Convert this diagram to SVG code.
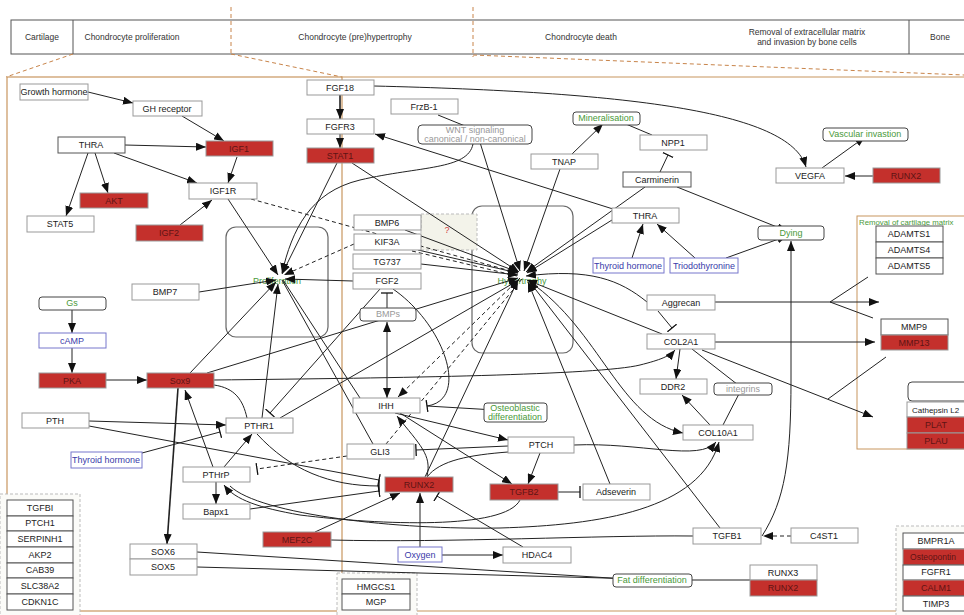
<svg xmlns="http://www.w3.org/2000/svg" width="964" height="615" viewBox="0 0 964 615">
<style>
text{font-family:"Liberation Sans",Arial,sans-serif;font-size:9px;fill:#222;text-anchor:middle}
.hd{font-size:8.5px;fill:#333}
.b{fill:#fff;stroke:#999;stroke-width:1}
.d{fill:#fff;stroke:#555;stroke-width:1}
.r{fill:#c4302c;stroke:#999;stroke-width:1}
.rt{fill:#5e1414}
.bl{fill:#fff;stroke:#7777cc;stroke-width:1}
.blt{fill:#3a3aaa}
.g{fill:#fff;stroke:#444;stroke-width:1}
.gt{fill:#4a9a3a}
.gy{fill:#999}
.hub{fill:none;stroke:#666;stroke-width:1.2}
.c{fill:none;stroke:#222;stroke-width:1}
.ds{stroke-dasharray:4,3}
.a{marker-end:url(#arr)}
.t{marker-end:url(#tee)}
.or{fill:none;stroke:#c8965f;stroke-width:1.2}
.od{fill:none;stroke:#c8844a;stroke-width:1;stroke-dasharray:4,3}
.sd{fill:#fbfbf8;stroke:#bbb;stroke-width:1;stroke-dasharray:3,2}
</style>
<defs>
<marker id="arr" viewBox="0 0 10 8" refX="10" refY="4" markerWidth="10" markerHeight="8" markerUnits="userSpaceOnUse" orient="auto-start-reverse"><path d="M0,0 L10,4 L0,8 z" fill="#111"/></marker>
<marker id="tee" viewBox="0 0 2 12" refX="1" refY="6" markerWidth="2" markerHeight="12" markerUnits="userSpaceOnUse" orient="auto"><path d="M1,0 L1,12" stroke="#111" stroke-width="1.3"/></marker>
</defs>
<rect width="964" height="615" fill="#fff"/>

<g id="header">
<rect x="11" y="20" width="960" height="34" fill="#fff" stroke="#555" stroke-width="1"/>
<line x1="73" y1="20" x2="73" y2="54" stroke="#555"/>
<line x1="909" y1="20" x2="909" y2="54" stroke="#555"/>
<line x1="231" y1="7" x2="231" y2="55" class="od"/>
<line x1="473" y1="7" x2="473" y2="57" class="od"/>
<text class="hd" x="42" y="40">Cartilage</text>
<text class="hd" x="132" y="40">Chondrocyte proliferation</text>
<text class="hd" x="355" y="40">Chondrocyte (pre)hypertrophy</text>
<text class="hd" x="581" y="40">Chondrocyte death</text>
<text class="hd" x="807" y="35">Removal of extracellular matrix</text>
<text class="hd" x="807" y="45">and invasion by bone cells</text>
<text class="hd" x="940" y="40">Bone</text>
<line x1="73" y1="54" x2="6" y2="77" class="od"/>
<line x1="231" y1="54" x2="342" y2="77" class="od"/>
<line x1="473" y1="55" x2="964" y2="75" class="od"/>
</g>

<g id="frames">
<rect x="7" y="77" width="335" height="534" class="or"/>
<path d="M342,77 L970,77 M342,611 L970,611" class="or"/>
<rect x="857" y="216" width="115" height="233" fill="none" stroke="#c8965f" stroke-width="1"/>
<text x="859" y="225" class="gt" style="text-anchor:start;font-size:7.8px">Removal of cartilage matrix</text>
<rect x="0" y="494" width="80" height="125" class="sd"/>
<rect x="337" y="573" width="80" height="46" class="sd"/>
<rect x="896" y="526" width="80" height="95" class="sd"/>
</g>

<g id="hub-proliferation"><rect x="226" y="227" width="102" height="110" rx="10" class="hub"/><text x="277" y="284" class="gt">Proliferation</text></g>
<g id="hub-hypertrophy"><rect x="472" y="206" width="101" height="147" rx="10" class="hub"/><text x="522" y="284" class="gt">Hypertrophy</text></g>
<g id="unknown"><rect x="421" y="214" width="56" height="36" class="sd" style="fill:#f3f3ea"/><text x="447" y="233" style="fill:#d04040">?</text></g>

<g id="connectors">
<path class="c a" d="M88,92 L133,103"/>
<path class="c a" d="M182,116 L224,141"/>
<path class="c a" d="M125,145 L206,147"/>
<path class="c a" d="M114,153 L197,183"/>
<path class="c a" d="M88,153 L66,216"/>
<path class="c a" d="M95,153 L108,193"/>
<path class="c a" d="M237,157 L228,183"/>
<path class="c a" d="M180,225 L212,200"/>
<path class="c a" d="M228,199 L278,275"/>
<path class="c a ds" d="M251,199 L518,273"/>
<path class="c a" style="stroke-width:1.6" d="M340,95 L340,119"/>
<path class="c a" d="M340,134 L340,148"/>
<path class="c a" d="M374,86 C620,92 790,110 806,167"/>
<path class="c a" d="M337,163 L282,274"/>
<path class="c a" d="M352,163 L519,272"/>
<path class="c a" d="M473,144 C468,170 420,166 360,180 C310,192 292,230 282,273"/>
<path class="c" d="M438,115 L470,128 M465,137 L472,127"/>
<path class="c a" d="M478,136 L520,271"/>
<path class="c a" d="M572,154 L603,124"/>
<path class="c a" d="M560,169 L524,271"/>
<path class="c t" d="M652,135 L614,119"/>
<path class="c t" d="M660,172 L668,155"/>
<path class="c a" d="M645,187 L526,272"/>
<path class="c a" d="M677,187 L787,231"/>
<path class="c a" d="M613,209 L375,134"/>
<path class="c a" d="M612,220 L527,273"/>
<path class="c a" d="M632,258 L643,224"/>
<path class="c a" d="M695,258 L657,224"/>
<path class="c a" d="M726,258 L787,236"/>
<path class="c a" d="M762,536 C785,500 791,460 791,380 L791,241"/>
<path class="c a" d="M822,168 L865,137"/>
<path class="c a" d="M873,176 L845,176"/>
<path class="c a ds" d="M791,536 L763,536"/>
<path class="c a" d="M405,230 L518,272"/>
<path class="c a" d="M418,250 L518,273"/>
<path class="c ds" d="M412,251 L517,276"/>
<path class="c a" d="M421,264 L518,275"/>
<path class="c a ds" d="M354,244 L284,275"/>
<path class="c a" d="M353,281 L285,279"/>
<path class="c a" d="M199,292 L276,280"/>
<path class="c t" d="M387,308 L387,293"/>
<path class="c a" style="marker-start:url(#arr)" d="M387,322 L387,398"/>
<path class="c t" d="M380,289 L270,413"/>
<path class="c t" d="M393,289 C445,325 470,400 427,406"/>
<path class="c a" d="M427,406 L512,411"/>
<path class="c a ds" d="M520,278 L398,397"/>
<path class="c ds" d="M522,279 L386,444"/>
<path class="c t ds" d="M347,456 L257,469"/>
<path class="c" d="M283,280 L360,398"/>
<path class="c" d="M282,280 L373,444"/>
<path class="c a" d="M427,476 C432,455 420,445 397,416"/>
<path class="c a" d="M425,477 L518,280"/>
<path class="c a" d="M395,413 L508,440"/>
<path class="c a" d="M400,413 L512,484"/>
<path class="c a" d="M540,453 L528,484"/>
<path class="c t" d="M558,492 L580,492"/>
<path class="c t" d="M508,446 L416,450"/>
<path class="c" d="M508,452 C470,455 440,460 427,477"/>
<path class="c a" d="M610,484 L528,282"/>
<path class="c a" d="M720,528 L529,281"/>
<path class="c a" d="M420,547 L420,493"/>
<path class="c a" d="M442,555 L503,555"/>
<path class="c t" d="M523,547 L437,496"/>
<path class="c a" d="M315,532 L400,493"/>
<path class="c" d="M331,540 C450,543 600,535 693,536"/>
<path class="c a" d="M520,500 C505,530 380,525 300,515 C260,508 235,500 224,485"/>
<path class="c a" d="M230,486 C260,515 400,530 500,528 C600,525 700,510 719,442"/>
<path class="c a" d="M574,445 C640,442 700,462 716,442"/>
<path class="c a" d="M530,282 C600,330 620,420 683,433"/>
<path class="c a" d="M72,310 L72,333"/>
<path class="c a" d="M72,348 L72,373"/>
<path class="c a" d="M106,380 L147,380"/>
<path class="c a" d="M190,373 L276,282"/>
<path class="c a" d="M207,373 L518,278"/>
<path class="c a" d="M214,380 C400,378 600,375 640,365 C660,360 670,356 675,350"/>
<path class="c" d="M214,385 C235,388 243,400 247,418"/>
<path class="c a" style="stroke-width:1.6" d="M178,388 L167,544"/>
<path class="c a" d="M213,467 L185,390"/>
<path class="c a" d="M224,467 L252,434"/>
<path class="c a" d="M216,482 L216,504"/>
<path class="c a" d="M89,421 L226,425"/>
<path class="c t" d="M142,453 L220,432"/>
<path class="c t" d="M89,426 L379,480"/>
<path class="c t" d="M257,434 C290,470 330,486 379,486"/>
<path class="c t" d="M250,509 L379,491"/>
<path class="c a" d="M262,418 L278,284"/>
<path class="c a" d="M280,418 L519,280"/>
<path class="c t" d="M197,552 L642,580"/>
<path class="c" d="M197,567 L642,579"/>
<path class="c a" d="M750,580 L657,580"/>
<path class="c a" d="M715,302 L879,302"/>
<path class="c" d="M868,277 L830,302 L873,318"/>
<path class="c a" d="M715,342 L875,342"/>
<path class="c a" d="M702,350 L873,417"/>
<path class="c" d="M886,357 L828,399"/>
<path class="c a" d="M680,349 L676,379"/>
<path class="c" d="M692,349 L742,388 L723,425"/>
<path class="c a" d="M710,425 L682,395"/>
<path class="c t" d="M658,311 L672,328"/>
<path class="c a" d="M647,302 C620,280 590,268 526,276"/>
<path class="c a" d="M662,334 L527,280"/>
</g>

<g id="n-growth-hormone"><rect x="20" y="84" width="68" height="16" class="b"/><text x="54" y="95">Growth hormone</text></g>
<g id="n-gh-receptor"><rect x="133" y="101" width="69" height="15" class="b"/><text x="167" y="112">GH receptor</text></g>
<g id="n-thra-1"><rect x="58" y="137" width="67" height="16" class="d"/><text x="91" y="148">THRA</text></g>
<g id="n-igf1"><rect x="206" y="141" width="67" height="15" class="r"/><text x="239" y="152" class="rt">IGF1</text></g>
<g id="n-akt"><rect x="80" y="193" width="68" height="15" class="r"/><text x="114" y="204" class="rt">AKT</text></g>
<g id="n-igf1r"><rect x="189" y="183" width="68" height="16" class="b"/><text x="223" y="194">IGF1R</text></g>
<g id="n-stat5"><rect x="27" y="216" width="67" height="16" class="b"/><text x="60" y="227">STAT5</text></g>
<g id="n-igf2"><rect x="136" y="225" width="67" height="16" class="r"/><text x="169" y="236" class="rt">IGF2</text></g>
<g id="n-bmp7"><rect x="132" y="284" width="67" height="16" class="b"/><text x="165" y="295">BMP7</text></g>
<g id="n-gs"><rect x="39" y="297" width="67" height="13" rx="3" class="g"/><text x="72" y="306" class="gt">Gs</text></g>
<g id="n-camp"><rect x="39" y="333" width="67" height="15" class="bl"/><text x="72" y="344" class="blt">cAMP</text></g>
<g id="n-pka"><rect x="39" y="373" width="67" height="15" class="r"/><text x="72" y="384" class="rt">PKA</text></g>
<g id="n-sox9"><rect x="147" y="373" width="67" height="15" class="r"/><text x="180" y="384" class="rt">Sox9</text></g>
<g id="n-pth"><rect x="22" y="413" width="67" height="15" class="b"/><text x="55" y="424">PTH</text></g>
<g id="n-pthr1"><rect x="226" y="418" width="67" height="15" class="b"/><text x="259" y="429">PTHR1</text></g>
<g id="n-thyroid-hormone-1"><rect x="71" y="452" width="71" height="16" class="bl"/><text x="106" y="463" class="blt">Thyroid hormone</text></g>
<g id="n-pthrp"><rect x="183" y="467" width="67" height="15" class="b"/><text x="216" y="478">PTHrP</text></g>
<g id="n-bapx1"><rect x="183" y="504" width="67" height="15" class="b"/><text x="216" y="515">Bapx1</text></g>
<g id="n-mef2c"><rect x="263" y="532" width="68" height="15" class="r"/><text x="297" y="543" class="rt">MEF2C</text></g>
<g id="n-sox6"><rect x="130" y="544" width="67" height="15" class="b"/><text x="163" y="555">SOX6</text></g>
<g id="n-sox5"><rect x="130" y="559" width="67" height="16" class="b"/><text x="163" y="570">SOX5</text></g>
<g id="n-left-stack">
<rect x="7" y="500" width="66" height="16" class="d"/><text x="40" y="511">TGFBI</text>
<rect x="7" y="516" width="66" height="15" class="d"/><text x="40" y="526">PTCH1</text>
<rect x="7" y="531" width="66" height="16" class="d"/><text x="40" y="542">SERPINH1</text>
<rect x="7" y="547" width="66" height="16" class="d"/><text x="40" y="558">AKP2</text>
<rect x="7" y="563" width="66" height="15" class="d"/><text x="40" y="573">CAB39</text>
<rect x="7" y="578" width="66" height="16" class="d"/><text x="40" y="589">SLC38A2</text>
<rect x="7" y="594" width="66" height="16" class="d"/><text x="40" y="605">CDKN1C</text>
</g>

<g id="n-fgf18"><rect x="307" y="80" width="67" height="15" class="b"/><text x="340" y="91">FGF18</text></g>
<g id="n-fgfr3"><rect x="307" y="119" width="67" height="15" class="b"/><text x="340" y="130">FGFR3</text></g>
<g id="n-stat1"><rect x="307" y="148" width="67" height="15" class="r"/><text x="340" y="159" class="rt">STAT1</text></g>
<g id="n-frzb1"><rect x="391" y="99" width="67" height="15" class="b"/><text x="424" y="110">FrzB-1</text></g>
<g id="n-wnt"><rect x="418" y="125" width="114" height="19" rx="4" class="g"/><text x="475" y="133" class="gy">WNT signaling</text><text x="475" y="142" class="gy">canonical / non-canonical</text></g>
<g id="n-mineralisation"><rect x="573" y="112" width="67" height="13" rx="3" class="g"/><text x="606" y="121" class="gt">Mineralisation</text></g>
<g id="n-tnap"><rect x="531" y="154" width="67" height="15" class="b"/><text x="564" y="165">TNAP</text></g>
<g id="n-bmp6"><rect x="354" y="215" width="67" height="15" class="b"/><text x="387" y="226">BMP6</text></g>
<g id="n-kif3a"><rect x="354" y="234" width="67" height="16" class="b"/><text x="387" y="245">KIF3A</text></g>
<g id="n-tg737"><rect x="353" y="254" width="68" height="15" class="b"/><text x="387" y="265">TG737</text></g>
<g id="n-fgf2"><rect x="353" y="273" width="68" height="16" class="b"/><text x="387" y="284">FGF2</text></g>
<g id="n-bmps"><rect x="360" y="308" width="56" height="13" rx="3" class="g"/><text x="388" y="317" class="gy">BMPs</text></g>
<g id="n-ihh"><rect x="353" y="398" width="67" height="15" class="b"/><text x="386" y="409">IHH</text></g>
<g id="n-osteoblastic"><rect x="484" y="403" width="63" height="19" rx="3" class="g"/><text x="515" y="411" class="gt">Osteoblastic</text><text x="515" y="420" class="gt">differentiation</text></g>
<g id="n-gli3"><rect x="347" y="444" width="67" height="15" class="b"/><text x="380" y="455">GLI3</text></g>
<g id="n-ptch"><rect x="508" y="437" width="66" height="16" class="b"/><text x="541" y="448">PTCH</text></g>
<g id="n-runx2-mid"><rect x="385" y="477" width="68" height="15" class="r"/><text x="419" y="488" class="rt">RUNX2</text></g>
<g id="n-tgfb2"><rect x="490" y="484" width="68" height="16" class="r"/><text x="524" y="495" class="rt">TGFB2</text></g>
<g id="n-adseverin"><rect x="583" y="484" width="67" height="16" class="b"/><text x="616" y="495">Adseverin</text></g>
<g id="n-oxygen"><rect x="398" y="547" width="44" height="15" class="bl"/><text x="420" y="558" class="blt">Oxygen</text></g>
<g id="n-hdac4"><rect x="503" y="547" width="68" height="16" class="b"/><text x="537" y="558">HDAC4</text></g>
<g id="n-mid-stack">
<rect x="342" y="579" width="68" height="15" class="d"/><text x="376" y="590">HMGCS1</text>
<rect x="342" y="594" width="68" height="16" class="d"/><text x="376" y="605">MGP</text>
</g>
<g id="n-fat"><rect x="613" y="574" width="79" height="13" rx="3" class="g"/><text x="652" y="583" class="gt">Fat differentiation</text></g>

<g id="n-npp1"><rect x="640" y="135" width="67" height="15" class="b"/><text x="673" y="146">NPP1</text></g>
<g id="n-carminerin"><rect x="623" y="172" width="68" height="15" class="d"/><text x="657" y="183">Carminerin</text></g>
<g id="n-thra-2"><rect x="612" y="208" width="67" height="15" class="b"/><text x="645" y="219">THRA</text></g>
<g id="n-vascular"><rect x="823" y="128" width="85" height="13" rx="3" class="g"/><text x="865" y="137" class="gt">Vascular invastion</text></g>
<g id="n-vegfa"><rect x="776" y="168" width="68" height="15" class="b"/><text x="810" y="179">VEGFA</text></g>
<g id="n-runx2-top"><rect x="873" y="168" width="67" height="15" class="r"/><text x="906" y="179" class="rt">RUNX2</text></g>
<g id="n-dying"><rect x="758" y="226" width="66" height="14" rx="3" class="g"/><text x="791" y="236" class="gt">Dying</text></g>
<g id="n-thyroid-hormone-2"><rect x="593" y="258" width="71" height="15" class="bl"/><text x="628" y="269" class="blt">Thyroid hormone</text></g>
<g id="n-triodothyronine"><rect x="670" y="258" width="68" height="15" class="bl"/><text x="704" y="269" class="blt">Triodothyronine</text></g>
<g id="n-adamts">
<rect x="876" y="226" width="67" height="16" class="d"/><text x="909" y="237">ADAMTS1</text>
<rect x="876" y="242" width="67" height="16" class="d"/><text x="909" y="253">ADAMTS4</text>
<rect x="876" y="258" width="67" height="16" class="d"/><text x="909" y="269">ADAMTS5</text>
</g>
<g id="n-aggrecan"><rect x="647" y="295" width="68" height="15" class="b"/><text x="681" y="306">Aggrecan</text></g>
<g id="n-col2a1"><rect x="647" y="334" width="68" height="15" class="b"/><text x="681" y="345">COL2A1</text></g>
<g id="n-mmp">
<rect x="881" y="319" width="67" height="16" class="d"/><text x="914" y="330">MMP9</text>
<rect x="881" y="335" width="67" height="15" class="r"/><text x="914" y="346" class="rt">MMP13</text>
</g>
<g id="n-ddr2"><rect x="640" y="379" width="67" height="15" class="b"/><text x="673" y="390">DDR2</text></g>
<g id="n-integrins"><rect x="714" y="383" width="58" height="12" rx="3" class="g"/><text x="743" y="392" class="gy">integrins</text></g>
<g id="n-col10a1"><rect x="683" y="425" width="70" height="15" class="b"/><text x="718" y="436">COL10A1</text></g>
<g id="n-empty"><rect x="908" y="382" width="70" height="19" rx="4" class="g"/></g>
<g id="n-proteases">
<rect x="907" y="402" width="70" height="15" class="b"/><text x="912" y="413" style="text-anchor:start;font-size:8px">Cathepsin L2</text>
<rect x="907" y="417" width="70" height="16" class="r"/><text x="936" y="428" class="rt">PLAT</text>
<rect x="907" y="433" width="70" height="16" class="r"/><text x="936" y="444" class="rt">PLAU</text>
</g>
<g id="n-tgfb1"><rect x="693" y="528" width="68" height="16" class="b"/><text x="727" y="539">TGFB1</text></g>
<g id="n-c4st1"><rect x="791" y="528" width="67" height="15" class="b"/><text x="824" y="539">C4ST1</text></g>
<g id="n-runx-stack">
<rect x="750" y="565" width="67" height="15" class="b"/><text x="783" y="576">RUNX3</text>
<rect x="750" y="580" width="67" height="16" class="r"/><text x="783" y="591" class="rt">RUNX2</text>
</g>
<g id="n-right-stack">
<rect x="903" y="533" width="70" height="16" class="d"/><text x="936" y="544">BMPR1A</text>
<rect x="903" y="549" width="70" height="16" class="r"/><text x="933" y="560" class="rt" style="font-size:8.5px">Osteopontin</text>
<rect x="903" y="565" width="70" height="15" class="d"/><text x="936" y="575">FGFR1</text>
<rect x="903" y="580" width="70" height="16" class="r"/><text x="936" y="591" class="rt">CALM1</text>
<rect x="903" y="596" width="70" height="15" class="d"/><text x="936" y="607">TIMP3</text>
</g>
</svg>
